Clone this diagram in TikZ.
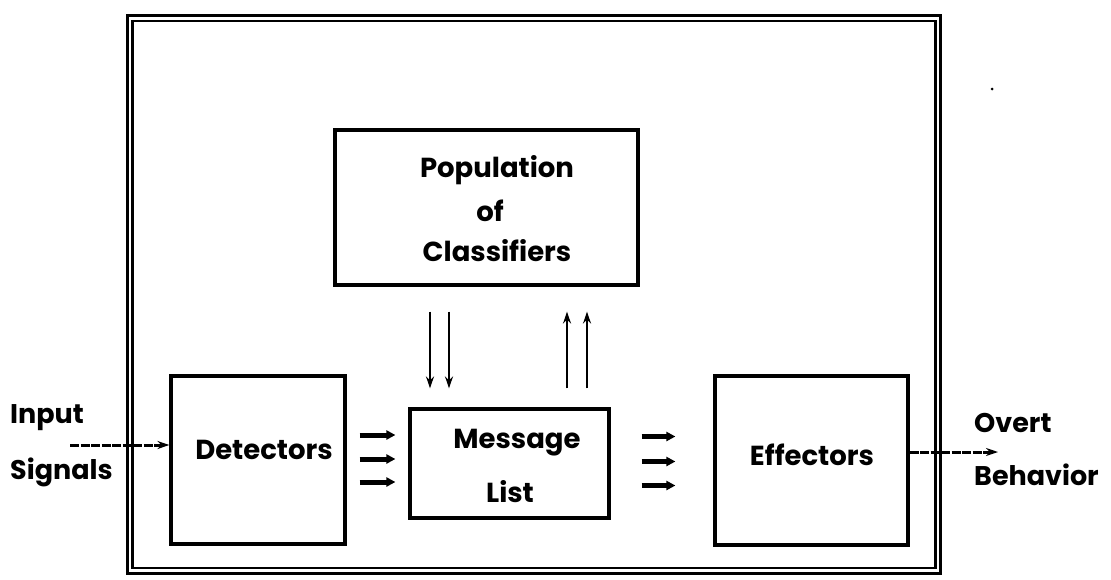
\documentclass[tikz,border=0pt]{standalone}
\usepackage{fontspec}
\setmainfont{Poppins}
\usetikzlibrary{arrows.meta}
\begin{document}
\begin{tikzpicture}[x=1pt,y=-1pt,
  box/.style={draw,line width=3.2pt,inner sep=0pt},
  txt/.style={font=\fontsize{27.5}{30}\selectfont\bfseries,inner sep=0pt,anchor=center},
  sidetxt/.style={font=\fontsize{27}{30}\selectfont\bfseries,inner sep=0pt,anchor=west},
  thin arrow/.style={line width=2pt,-{Stealth[length=12pt,width=8pt]}},
  fat arrow/.style={line width=5pt,-{Triangle[length=9pt,width=9pt]}},
  signal/.style={line width=3pt,dash pattern=on 9pt off 1.5pt,-{Stealth[length=12pt,width=8pt]}}]
\useasboundingbox (0,0) rectangle (1111,579);
% double outer frame
\draw[line width=3.6pt] (127.5,15.5) rectangle (940.5,573.5);
\draw[line width=2.4pt] (132.5,21) rectangle (935.5,568);
% blocks
\node[box,minimum width=303pt,minimum height=155pt] (pop) at (486.5,207.5) {};
\node[box,minimum width=199pt,minimum height=109pt] (msg) at (509.5,463.5) {};
\node[box,minimum width=174pt,minimum height=168pt] (det) at (258,460) {};
\node[box,minimum width=193pt,minimum height=169pt] (eff) at (811.5,460.5) {};
% block texts
\node[txt] (popA) at (497,170) {Population};
\node[txt] (popB) at (490,211) {of};
\node[txt] (popC) at (497,251) {Classifiers};
\node[txt] (msgA) at (517,443) {Message};
\node[txt] (msgB) at (510,492) {List};
\node[txt] (detT) at (264,450) {Detectors};
\node[txt] (effT) at (812,455) {Effectors};
\node[sidetxt] (inA) at (10,418) {Input};
\node[sidetxt] (inB) at (10,472) {Signals};
\node[sidetxt] (outA) at (974,423) {Overt};
\node[sidetxt] (outB) at (974,475) {Behavior};
% classifiers <-> message list
\draw[thin arrow] ([xshift=-56.5pt,yshift=-25pt]pop.south) -- ([xshift=-79.5pt,yshift=19pt]msg.north);
\draw[thin arrow] ([xshift=-37.5pt,yshift=-25pt]pop.south) -- ([xshift=-60.5pt,yshift=19pt]msg.north);
\draw[thin arrow] ([xshift=57.5pt,yshift=19pt]msg.north) -- ([xshift=80.5pt,yshift=-25pt]pop.south);
\draw[thin arrow] ([xshift=77.5pt,yshift=19pt]msg.north) -- ([xshift=100.5pt,yshift=-25pt]pop.south);
% detectors -> message list
\draw[fat arrow] ([xshift=13pt,yshift=-22pt]det.east) -- ([xshift=-13pt,yshift=-22pt]det.east -| msg.west);
\draw[fat arrow] ([xshift=13pt,yshift=1pt]det.east) -- ([xshift=-13pt,yshift=1pt]det.east -| msg.west);
\draw[fat arrow] ([xshift=13pt,yshift=25pt]det.east) -- ([xshift=-13pt,yshift=25pt]det.east -| msg.west);
% message list -> effectors
\draw[fat arrow] ([xshift=31pt,yshift=-22pt]msg.east) -- ([xshift=-38pt,yshift=-22pt]msg.east -| eff.west);
\draw[fat arrow] ([xshift=31pt,yshift=2pt]msg.east) -- ([xshift=-38pt,yshift=2pt]msg.east -| eff.west);
\draw[fat arrow] ([xshift=31pt,yshift=27pt]msg.east) -- ([xshift=-38pt,yshift=27pt]msg.east -| eff.west);
% signals in and out
\coordinate (inStart) at (70,445);
\coordinate (outEnd) at (998,452);
\draw[signal] (inStart) -- (inStart -| det.west);
\draw[signal] (eff.east |- outEnd) -- (outEnd);
\fill (992,89) circle (1.5pt);
\end{tikzpicture}
\end{document}
